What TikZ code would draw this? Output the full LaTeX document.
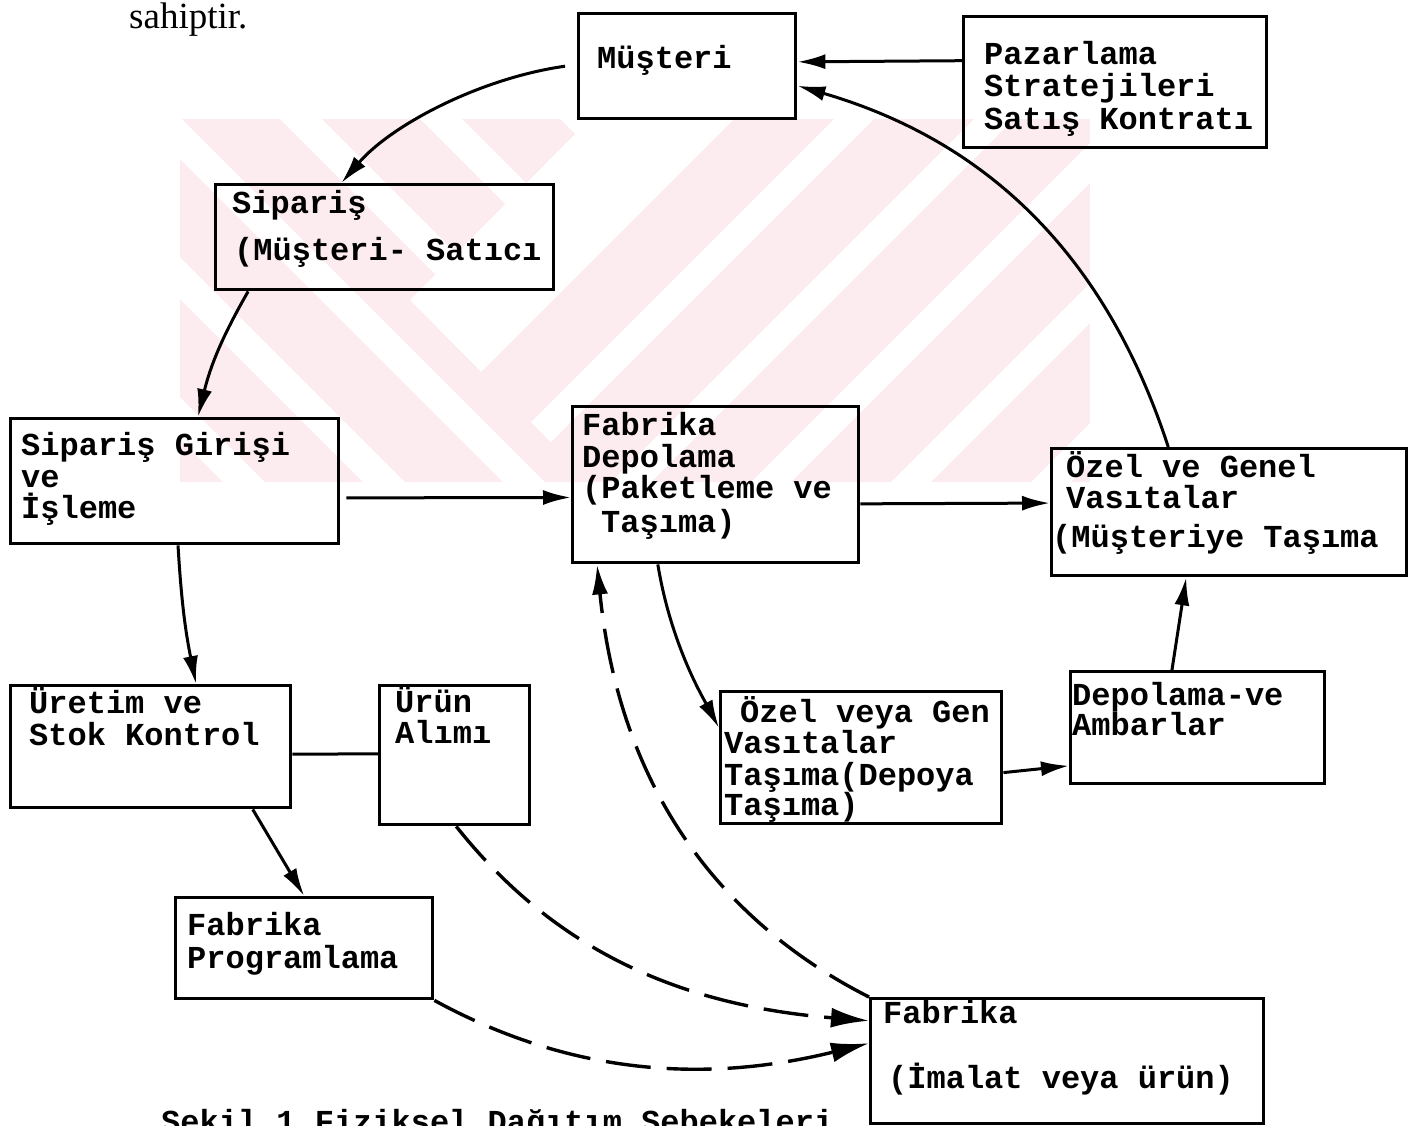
\documentclass[tikz,border=0pt]{standalone}
\usepackage{fontspec}
\setmonofont{Liberation Mono}
\newfontfamily\prosefont{Liberation Serif}
\usetikzlibrary{arrows.meta,calc}
\definecolor{wmpink}{RGB}{253,236,239}

\begin{document}
\begin{tikzpicture}[x=1pt,y=-1pt,
  box/.style={draw, line width=3.4pt, inner sep=0pt, anchor=north west},
  lbl/.style={font=\ttfamily\bfseries\fontsize{32}{33}\selectfont, inner sep=0pt, anchor=base west},
  flow/.style={line width=3pt, -{Latex[length=28pt,width=15pt]}},
  plain/.style={line width=3pt},
  back/.style={line width=3.4pt, dash pattern=on 45pt off 16pt, -{Latex[length=30pt,width=16pt]}},
  backbig/.style={back, -{Latex[length=38pt,width=20pt]}}]

\useasboundingbox (0,0) rectangle (1418,1125);

% faint striped emblem in the background
\begin{scope}
  \clip (180,119) rectangle (1090,482);
  \begin{scope}
    \clip (180,119) -- (590,119) -- (410,300) -- (590,482) -- (180,482) -- cycle;
    \foreach \s in {-238,-98,42,182,322,462}
      \fill[wmpink] (\s,119) -- ++(98,0) -- ++(363,363) -- ++(-98,0) -- cycle;
  \end{scope}
  \begin{scope}
    \clip (590,119) -- (1090,119) -- (1090,482) -- (590,482) -- (410,300) -- cycle;
    \foreach \s in {371,511,651,791,931,1071}
      \fill[wmpink] (\s,482) -- ++(100,0) -- ++(363,-363) -- ++(-100,0) -- cycle;
  \end{scope}
\end{scope}

% running text above the figure
\node[inner sep=0pt, anchor=base west, font=\prosefont\fontsize{37}{39}\selectfont] (prose) at (129,28) {sahiptir.};

% boxes
\node[box, minimum width=217pt, minimum height=105pt] (mus) at (577,12) {};
\node[box, minimum width=303pt, minimum height=131pt] (paz) at (962,15) {};
\node[box, minimum width=338pt, minimum height=105pt] (sip) at (214,183) {};
\node[box, minimum width=328pt, minimum height=125pt] (sgi) at (9,417) {};
\node[box, minimum width=286pt, minimum height=156pt] (fdep) at (571,405) {};
\node[box, minimum width=355pt, minimum height=127pt] (ozg) at (1050,447) {};
\node[box, minimum width=280pt, minimum height=122pt] (uret) at (9,684) {};
\node[box, minimum width=150pt, minimum height=139pt] (urun) at (378,684) {};
\node[box, minimum width=281pt, minimum height=132pt] (ozv) at (719,690) {};
\node[box, minimum width=254pt, minimum height=112pt] (dep) at (1069,670) {};
\node[box, minimum width=257pt, minimum height=101pt] (fprog) at (174,896) {};
\node[box, minimum width=393pt, minimum height=125pt] (fab) at (869,997) {};

% box labels
\node[lbl] (mus-a) at (597,68) {Müşteri};
\node[lbl] (paz-a) at (984,64) {Pazarlama};
\node[lbl] (paz-b) at (984,96) {Stratejileri};
\node[lbl] (paz-c) at (984,129) {Satış Kontratı};
\node[lbl] (sip-a) at (232,213) {Sipariş};
\node[lbl] (sip-b) at (234,260) {(Müşteri- Satıcı};
\node[lbl] (sgi-a) at (21,455) {Sipariş Girişi};
\node[lbl] (sgi-b) at (21,487) {ve};
\node[lbl] (sgi-c) at (21,518) {İşleme};
\node[lbl] (fdep-a) at (582,435) {Fabrika};
\node[lbl] (fdep-b) at (582,467) {Depolama};
\node[lbl] (fdep-c) at (582,498) {(Paketleme ve};
\node[lbl] (fdep-d) at (601,532) {Taşıma)};
\node[lbl] (ozg-a) at (1066,477) {Özel ve Genel};
\node[lbl] (ozg-b) at (1066,508) {Vasıtalar};
\node[lbl] (ozg-c) at (1052,547) {(Müşteriye Taşıma};
\node[lbl] (uret-a) at (29,713) {Üretim ve};
\node[lbl] (uret-b) at (29,745) {Stok Kontrol};
\node[lbl] (urun-a) at (395,712) {Ürün};
\node[lbl] (urun-b) at (395,743) {Alımı};
\node[lbl] (ozv-a) at (740,722) {Özel veya Gen};
\node[lbl] (ozv-b) at (724,753) {Vasıtalar};
\node[lbl] (ozv-c) at (724,785) {Taşıma(Depoya};
\node[lbl] (ozv-d) at (724,815) {Taşıma)};
\node[lbl] (dep-a) at (1072,705) {Depolama-ve};
\node[lbl] (dep-b) at (1072,735) {Ambarlar};
\node[lbl] (fprog-a) at (187,935) {Fabrika};
\node[lbl] (fprog-b) at (187,968) {Programlama};
\node[lbl] (fab-a) at (883,1023) {Fabrika};
\node[lbl] (fab-b) at (888,1088) {(İmalat veya ürün)};

% caption, running past the lower edge of the page
\node[lbl] (caption) at (161,1132) {Şekil 1 Fiziksel Dağıtım Şebekeleri};

% solid flow
\draw[flow] ([xshift=-12pt]mus.west) .. controls +(-85,12) and +(50,-58) .. ($(sip.north west)!0.373!(sip.north east)$);
\draw[flow] ($(sip.south west)!0.1!(sip.south east)$) to[bend right=8] ($(sgi.north west)!0.57!(sgi.north east)$);
\draw[flow] ($(sgi.north east)!0.63!(sgi.south east)+(6,0)$) -- ($(fdep.north west)!0.58!(fdep.south west)$);
\draw[flow] ($(fdep.north east)!0.62!(fdep.south east)$) -- ($(ozg.north west)!0.43!(ozg.south west)$);
\draw[flow] ($(paz.north west)!0.34!(paz.south west)$) -- ($(mus.north east)!0.46!(mus.south east)$);
\draw[flow] ($(ozg.north west)!0.33!(ozg.north east)$) .. controls +(-62,-190) and +(192,56) .. ($(mus.north east)!0.68!(mus.south east)$);
\draw[flow] ($(sgi.south west)!0.51!(sgi.south east)$) to[bend right=4] ($(uret.north west)!0.66!(uret.north east)$);
\draw[plain] ($(uret.north east)!0.56!(uret.south east)$) -- ($(urun.north west)!0.49!(urun.south west)$);
\draw[flow] ($(uret.south west)!0.86!(uret.south east)$) -- ($(fprog.north west)!0.5!(fprog.north east)$);
\draw[flow] ($(fdep.south west)!0.3!(fdep.south east)$) .. controls +(13,79) and +(-17,-32) .. ($(ozv.north west)!0.28!(ozv.south west)$);
\draw[flow] ($(ozv.north east)!0.61!(ozv.south east)$) -- ($(dep.north west)!0.83!(dep.south west)$);
\draw[flow] ($(dep.north west)!0.4!(dep.north east)$) -- ($(ozg.south west)!0.38!(ozg.south east)$);

% dashed returns from the plant
\draw[back] (fab.north west) .. controls +(-134,-68) and +(24,240) .. ($(fdep.south west)!0.09!(fdep.south east)$);
\draw[backbig] (fprog.south east) .. controls +(150,82) and +(-146,36) .. ($(fab.north west)!0.36!(fab.south west)$);
\draw[backbig] ($(urun.south west)!0.51!(urun.south east)$) .. controls +(93,117) and +(-199,-16) .. ($(fab.north west)!0.185!(fab.south west)$);

\end{tikzpicture}
\end{document}
